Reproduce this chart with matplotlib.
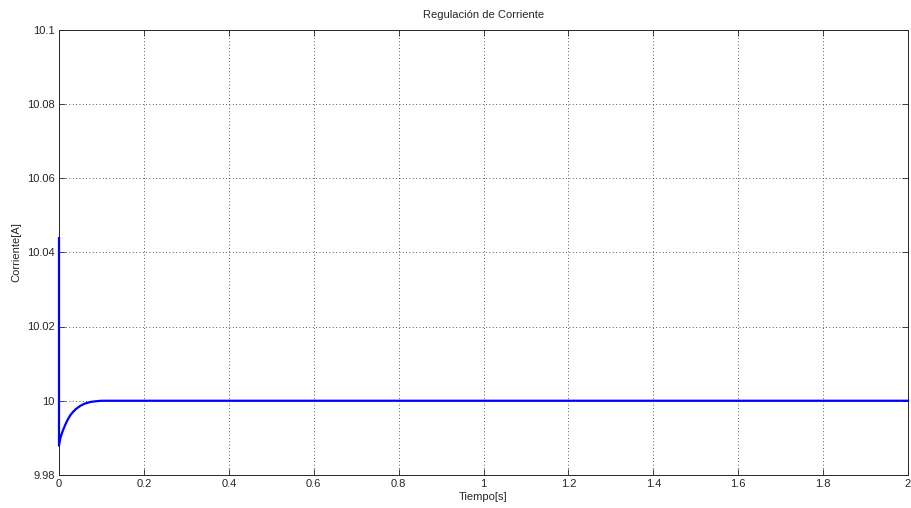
import matplotlib
matplotlib.use("Agg")
import matplotlib.pyplot as plt

# Data
tiempo = [0.0, 0.0, 0.0005, 0.003, 0.006, 0.01, 0.015, 0.02, 0.026, 0.033, 0.04, 0.05, 0.06, 0.075, 0.09, 0.1, 0.6, 2.0]
corriente = [10.0438, 9.9879, 9.9885, 9.9898, 9.9910, 9.9922, 9.9936, 9.9948, 9.9960, 9.9970, 9.9978, 9.9986, 9.9992, 9.9997, 9.9999, 10.0, 10.0, 10.0]

xticks = [0, 0.2, 0.4, 0.6, 0.8, 1.0, 1.2, 1.4, 1.6, 1.8, 2.0]
xticklabels = ["0", "0.2", "0.4", "0.6", "0.8", "1", "1.2", "1.4", "1.6", "1.8", "2"]
yticks = [9.98, 10.0, 10.02, 10.04, 10.06, 10.08, 10.1]
yticklabels = ["9.98", "10", "10.02", "10.04", "10.06", "10.08", "10.1"]

plt.rcParams['font.family'] = ['Liberation Sans', 'DejaVu Sans']

fig = plt.figure(figsize=(9.12, 5.08), dpi=100)
ax = fig.add_axes([59/912, 1 - 475/508, (908-59)/912, (475-29.5)/508])

ax.plot(tiempo, corriente, color=(0, 0, 1), linewidth=1.6, clip_on=False, zorder=5)

ax.set_xlim(0, 2)
ax.set_ylim(9.98, 10.1)
ax.set_xticks(xticks)
ax.set_xticklabels(xticklabels)
ax.set_yticks(yticks)
ax.set_yticklabels(yticklabels)
ax.tick_params(direction='in', top=True, right=True, labelsize=8, length=4, width=0.6, colors='#262626', labelcolor='#262626', pad=3)
ax.grid(True, linestyle=(0, (1, 3)), color='#262626', linewidth=0.6)
for s in ax.spines.values():
    s.set_linewidth(0.7)
    s.set_color('#262626')
    s.set_zorder(2)

ax.set_title("Regulación de Corriente", fontsize=8, color='#262626', pad=8)
ax.set_xlabel("Tiempo[s]", fontsize=8, color='#262626', labelpad=2)
ax.set_ylabel("Corriente[A]", fontsize=8, color='#262626', labelpad=4)

fig.savefig("out.png", dpi=100)
